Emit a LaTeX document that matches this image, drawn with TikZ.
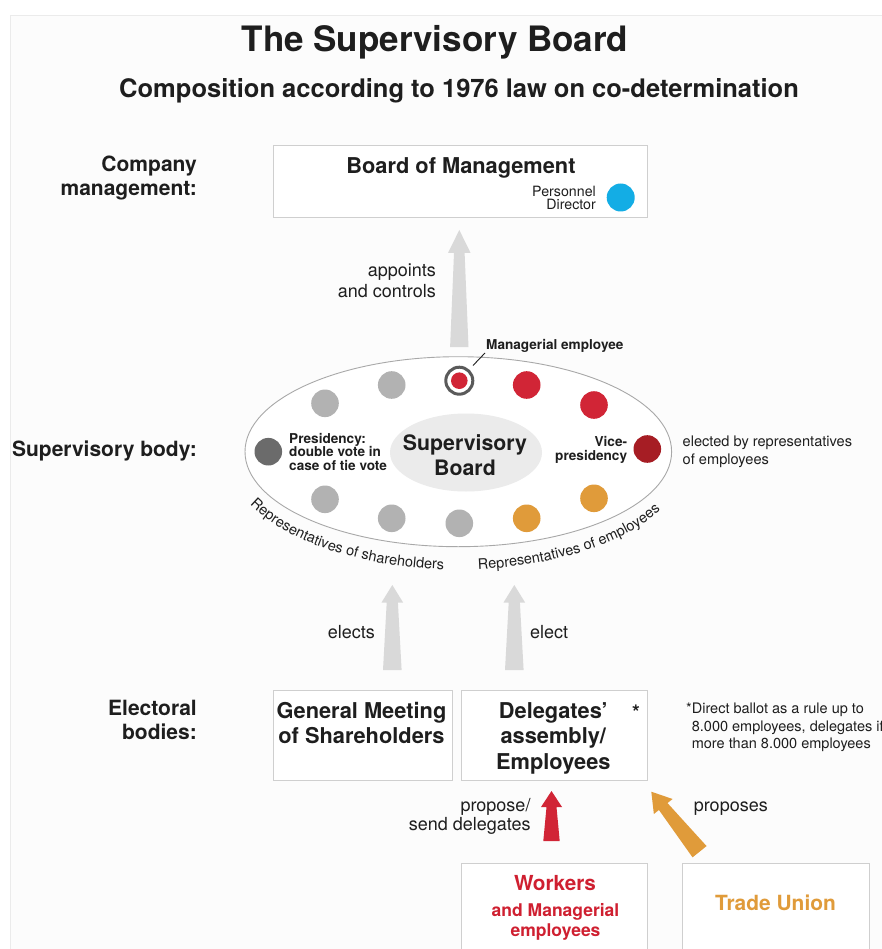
\documentclass[tikz,border=0pt]{standalone}
\usepackage{fontspec}
\setmainfont{TeX Gyre Heros}
\usetikzlibrary{decorations.text,shapes.geometric}

\definecolor{ink}{HTML}{1E1E1E}
\definecolor{panel}{HTML}{FCFCFC}
\definecolor{panelline}{HTML}{EBEBEB}
\definecolor{boxline}{HTML}{CFCFCF}
\definecolor{arrowgray}{HTML}{D9D9D9}
\definecolor{ringline}{HTML}{A8A8A8}
\definecolor{core}{HTML}{EBEBEB}
\definecolor{seatgray}{HTML}{B2B2B2}
\definecolor{seatdark}{HTML}{6B6B6B}
\definecolor{seatred}{HTML}{D12536}
\definecolor{seatdeep}{HTML}{A61D24}
\definecolor{seatorange}{HTML}{E09B3A}
\definecolor{labred}{HTML}{CF1F30}
\definecolor{directorblue}{HTML}{13ADE5}
\definecolor{ringdark}{HTML}{5A5A5A}

\newcommand\fsz[2]{\fontsize{#1}{#2}\selectfont}
% tapered block arrow: colour, tip coordinate, rotation, length,
% head length, head half width, neck half width, base half width
\newcommand\blockarrow[8]{%
  \fill[#1, shift={(#2)}, rotate=#3] (0,0) -- (#6,#5) -- (#7,#5) -- (#8,#4)
    -- (-#8,#4) -- (-#7,#5) -- (-#6,#5) -- cycle;}

\begin{document}
\begin{tikzpicture}[x=1pt, y=-1pt,
  heading/.style={font=\fsz{21}{24.5}\bfseries, text=ink, inner sep=0pt, align=right},
  frame/.style={draw=boxline, line width=1.1pt, fill=white, inner sep=0pt, anchor=north west},
  boxtext/.style={font=\fsz{21.8}{25.5}\bfseries, text=ink, inner sep=0pt, align=center},
  plain/.style={font=\fsz{18}{21}, text=ink, inner sep=0pt},
  small/.style={font=\fsz{14}{14}, text=ink, inner sep=0pt},
  smallbold/.style={font=\fsz{13.6}{13.4}\bfseries, text=ink, inner sep=0pt},
  seat/.style={circle, inner sep=0pt, minimum size=27.6pt},
]
\useasboundingbox (0,0) rectangle (881,949);
\fill[white] (0,0) rectangle (881,949);
\filldraw[fill=panel, draw=panelline, line width=0.8pt] (10.5,15.5) rectangle (900,970);

% headings
\node[font=\fsz{35}{40}\bfseries, text=ink, inner sep=0pt, anchor=base] (title) at (435,52) {The Supervisory Board};
\node[font=\fsz{25.5}{30}\bfseries, text=ink, inner sep=0pt, anchor=base] (subtitle) at (459,98) {Composition according to 1976 law on co-determination};

% row labels
\node[heading, anchor=east] (lblmgmt) at (197,178) {Company\\management:};
\node[heading, anchor=base east] (lblsup) at (197,456) {Supervisory body:};
\node[heading, anchor=east] (lblelect) at (197,720) {Electoral\\bodies:};

% board of management
\node[frame, minimum width=374pt, minimum height=72pt] (bom) at (273,145) {};
\node[font=\fsz{21.8}{26}\bfseries, text=ink, inner sep=0pt, anchor=base] (bomtext) at (461,174) {Board of Management};
\node[small, align=right, font=\fsz{14.2}{13.5}, anchor=east] (personnel) at (596,198) {Personnel\\Director};
\node[seat, fill=directorblue, minimum size=28pt] (director) at (620.7,197.5) {};

% appoints arrow
\coordinate (appointsTip) at (459.3,230);
\blockarrow{arrowgray}{appointsTip}{0}{117}{23}{11.3}{5.3}{9.2}
\node[plain, align=right, anchor=east] (appoints) at (436,281) {appoints\\and controls};

% supervisory board ring
\coordinate (ringc) at (458.3,451.7);
\draw[ringline, line width=0.9pt, fill=white] (ringc) ellipse [x radius=213.3, y radius=95];
\node[ellipse, fill=core, minimum width=152pt, minimum height=78pt, inner sep=0pt] (core) at (466,452.5) {};
\node[font=\fsz{21.3}{24.4}\bfseries, text=ink, inner sep=0pt, align=center] (coretext) at (465,455) {Supervisory\\Board};

% seats of the shareholder side
\node[seat, fill=seatdark] (s1) at (268.3,451.7) {};
\node[seat, fill=seatgray] (s2) at (325,403.3) {};
\node[seat, fill=seatgray] (s3) at (391.7,385) {};
\node[seat, fill=seatgray] (s4) at (325,499.3) {};
\node[seat, fill=seatgray] (s5) at (391.7,518.3) {};
\node[seat, fill=seatgray] (s6) at (459.3,523.3) {};
% seats of the employee side
\node[circle, draw=ringdark, line width=3pt, fill=white, minimum size=27pt, inner sep=0pt] (e0) at (459.3,380.7) {};
\node[seat, fill=seatred, minimum size=16.6pt] (e0core) at (459.3,380.7) {};
\node[seat, fill=seatred] (e1) at (526.7,385) {};
\node[seat, fill=seatred] (e2) at (594,405) {};
\node[seat, fill=seatdeep] (e3) at (647.3,449) {};
\node[seat, fill=seatorange] (e4) at (526.7,518.3) {};
\node[seat, fill=seatorange] (e5) at (594,498.3) {};

\node[smallbold, anchor=base west] (mgrlabel) at (486,349.5) {Managerial employee};
\coordinate (mgrlead) at (485,353);
\coordinate (mgrfoot) at (473,365.5);
\draw[ink, line width=0.9pt] (mgrfoot) -- (mgrlead);

\node[smallbold, align=left, anchor=west] (presidency) at (289,451.6) {Presidency:\\double vote in\\case of tie vote};
\node[smallbold, align=right, anchor=east] (vice) at (627.3,450) {Vice-\\presidency};
\node[font=\fsz{14.6}{17.3}, text=ink, inner sep=0pt, align=left, anchor=west] (elected) at (682.5,451.7) {elected by representatives\\of employees};

% captions along the ring
\path[decorate, decoration={text along path, text align=center,
    text={|\fsz{14.5}{15}\color{ink}|Representatives of shareholders}}]
  ([shift={(ringc)}]163.5:233 and 118) arc[start angle=163.5, end angle=87.5, x radius=233, y radius=118];
\path[decorate, decoration={text along path, text align=center,
    text={|\fsz{14.5}{15}\color{ink}|Representatives of employees}}]
  ([shift={(ringc)}]90:233 and 118) arc[start angle=90, end angle=22, x radius=233, y radius=118];

% elect arrows
\coordinate (electsTip) at (392.3,585);
\coordinate (electTip) at (514.3,585);
\blockarrow{arrowgray}{electsTip}{0}{85}{17.5}{10.8}{5.6}{9.3}
\blockarrow{arrowgray}{electTip}{0}{85}{17.5}{10.8}{5.6}{9.3}
\node[plain, anchor=base east] (elects) at (375,638) {elects};
\node[plain, anchor=base west] (elect) at (530,638) {elect};

% electoral bodies
\node[frame, minimum width=179pt, minimum height=90pt] (gm) at (273,690) {};
\node[frame, minimum width=186pt, minimum height=90pt] (da) at (461,690) {};
\node[boxtext, anchor=north] (gmtext) at (361.5,702) {General Meeting\\of Shareholders};
\node[boxtext, anchor=north] (datext) at (553.3,702) {Delegates’\\assembly/\\Employees};
\node[font=\fsz{20}{20}\bfseries, text=ink, inner sep=0pt] (star) at (636,712) {*};
\node[font=\fsz{14.5}{17.5}, text=ink, inner sep=0pt, align=left, anchor=north west] (note) at (686,703)
  {*Direct ballot as a rule up to\\\hphantom{*}8.000 employees, delegates if\\\hphantom{*}more than 8.000 employees};

% proposing arrows
\coordinate (workersTip) at (551.5,791);
\coordinate (unionTip) at (651.3,791.7);
\blockarrow{seatred}{workersTip}{0}{50}{16}{10.5}{5}{8.2}
\blockarrow{seatorange}{unionTip}{38.8}{77}{19}{12}{5.5}{9}
\node[plain, align=right, anchor=east, font=\fsz{18}{19}] (propose) at (530.7,816.7) {propose/\\send delegates};
\node[plain, anchor=base west] (proposes) at (693.6,811.7) {proposes};

% origin boxes
\node[frame, minimum width=186pt, minimum height=110pt] (workers) at (461,862.5) {};
\node[frame, minimum width=187pt, minimum height=110pt] (union) at (681.5,862.5) {};
\node[font=\fsz{20.7}{24}\bfseries, text=labred, inner sep=0pt, anchor=base] (workerstext) at (555,890) {Workers};
\node[font=\fsz{17.5}{20.7}\bfseries, text=labred, inner sep=0pt, align=center, anchor=north] (mgrstext) at (555.5,903) {and Managerial\\employees};
\node[font=\fsz{20.9}{24}\bfseries, text=seatorange, inner sep=0pt, anchor=base] (uniontext) at (775.5,910) {Trade Union};
\end{tikzpicture}
\end{document}
